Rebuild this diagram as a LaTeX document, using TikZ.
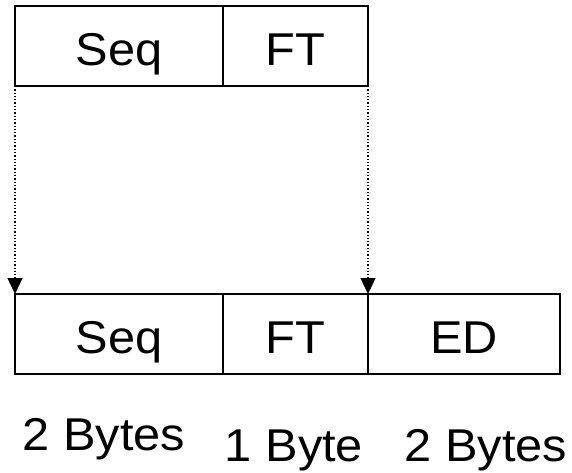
\documentclass[tikz,border=0pt]{standalone}
\usepackage{fontspec}
\setmainfont{Liberation Sans}[FakeStretch=1.06]
\usetikzlibrary{arrows.meta}
\begin{document}
\begin{tikzpicture}[x=1pt,y=-1pt,
  field/.style={draw,line width=1.6pt,outer sep=0pt,minimum height=80pt,inner sep=0pt,
    text height=39pt,text depth=0pt,font=\fontsize{46}{46}\selectfont,anchor=north west},
  lbl/.style={font=\fontsize{46}{46}\selectfont,anchor=base},
  link/.style={dotted,line width=1.3pt,-{Triangle[length=16pt,width=15pt]}}]
\useasboundingbox (0,0) rectangle (572,473);
\node[field,minimum width=208pt] (s1) at (15,6) {Seq};
\node[field,minimum width=145pt] (f1) at (223,6) {FT};
\node[field,minimum width=208pt] (s2) at (15,294) {Seq};
\node[field,minimum width=145pt] (f2) at (223,294) {FT};
\node[field,minimum width=192pt] (e2) at (368,294) {ED};
\draw[link] (s1.south west) -- (s2.north west);
\draw[link] (f1.south east) -- (f2.north east);
\node[lbl] (b1) at (104,450) {2 Bytes};
\node[lbl] (b2) at (294,461) {1 Byte};
\node[lbl] (b3) at (486,461) {2 Bytes};
\end{tikzpicture}
\end{document}
